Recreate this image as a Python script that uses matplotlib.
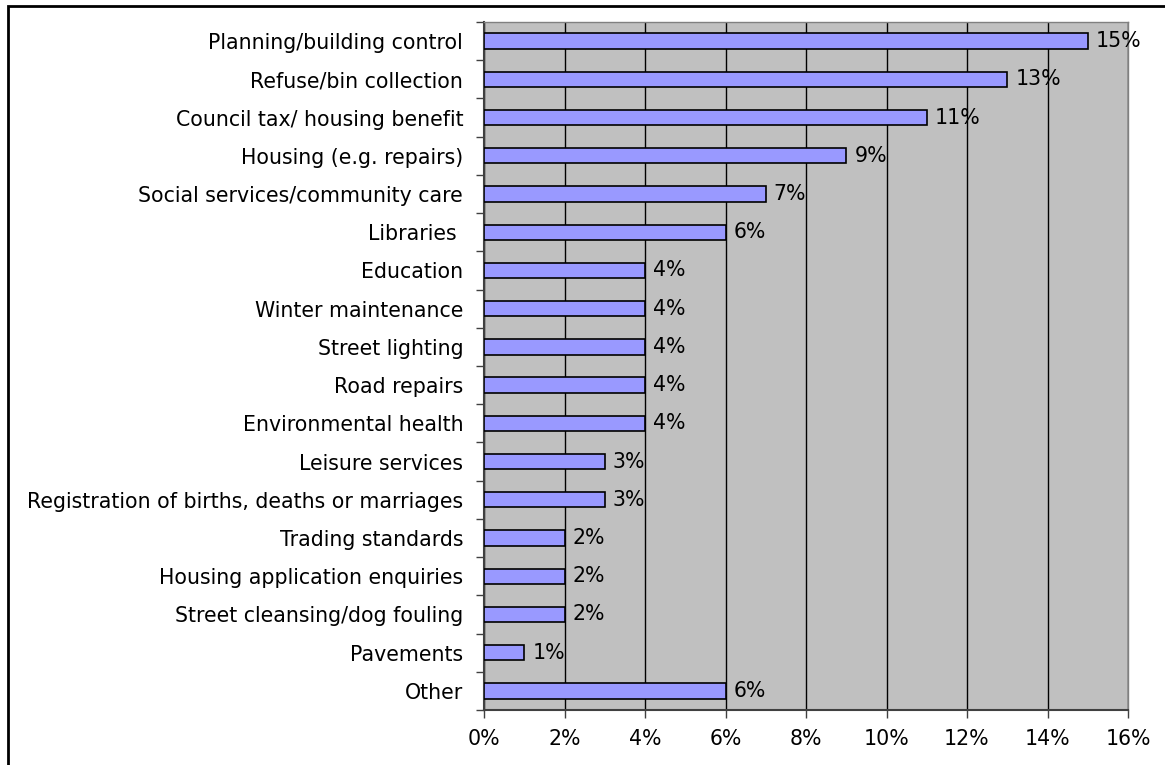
import matplotlib.pyplot as plt
from matplotlib.patches import Rectangle
from matplotlib.ticker import MultipleLocator, FuncFormatter

services = ['Planning/building control', 'Refuse/bin collection',
            'Council tax/ housing benefit', 'Housing (e.g. repairs)',
            'Social services/community care', 'Libraries ', 'Education',
            'Winter maintenance', 'Street lighting', 'Road repairs',
            'Environmental health', 'Leisure services',
            'Registration of births, deaths or marriages', 'Trading standards',
            'Housing application enquiries', 'Street cleansing/dog fouling',
            'Pavements', 'Other']
percent = [15, 13, 11, 9, 7, 6, 4, 4, 4, 4, 4, 3, 3, 2, 2, 2, 1, 6]

plt.rcParams['font.family'] = ['DejaVu Sans']
FS = 14.8

fig = plt.figure(figsize=(11.65, 7.65), dpi=100)
ax = fig.add_axes([484 / 1165, 1 - 710 / 765, (1128 - 484) / 1165, (710 - 22) / 765])

n = len(services)
ypos = list(range(n))
ax.set_facecolor('#C0C0C0')
ax.barh(ypos, percent, height=0.4, color='#9999FF', edgecolor='black',
        linewidth=1.2, zorder=3)
for y, v in zip(ypos, percent):
    ax.text(v + 0.2, y, '%d%%' % v, va='center', ha='left', fontsize=FS,
            zorder=4)

ax.set_xlim(0, 16)
ax.set_ylim(n - 0.5, -0.5)
ax.xaxis.set_major_locator(MultipleLocator(2))
ax.xaxis.set_major_formatter(FuncFormatter(lambda x, p: '%d%%' % x))
ax.grid(axis='x', color='black', linewidth=1.0, zorder=1)

# category labels centred on bars, tick marks on the boundaries
ax.set_yticks(ypos)
ax.set_yticklabels(services, fontsize=FS)
ax.tick_params(axis='y', length=0, pad=15)
ax.set_yticks([i - 0.5 for i in range(n + 1)], minor=True)
ax.tick_params(axis='y', which='minor', length=6, color='#404040', width=1)
ax.tick_params(axis='x', length=6, color='#404040', width=1, labelsize=FS, pad=8)

for side in ['left', 'bottom']:
    ax.spines[side].set_color('#404040')
    ax.spines[side].set_linewidth(1.5)
for side in ['top', 'right']:
    ax.spines[side].set_color('#808080')
    ax.spines[side].set_linewidth(1.0)

# outer frame of the chart area
fig.patches.append(Rectangle((8 / 1165, -0.1), 1.2, 1 - 6 / 765 + 0.1,
                             transform=fig.transFigure, fill=False,
                             edgecolor='black', linewidth=2))

fig.savefig('out.png', dpi=100)
